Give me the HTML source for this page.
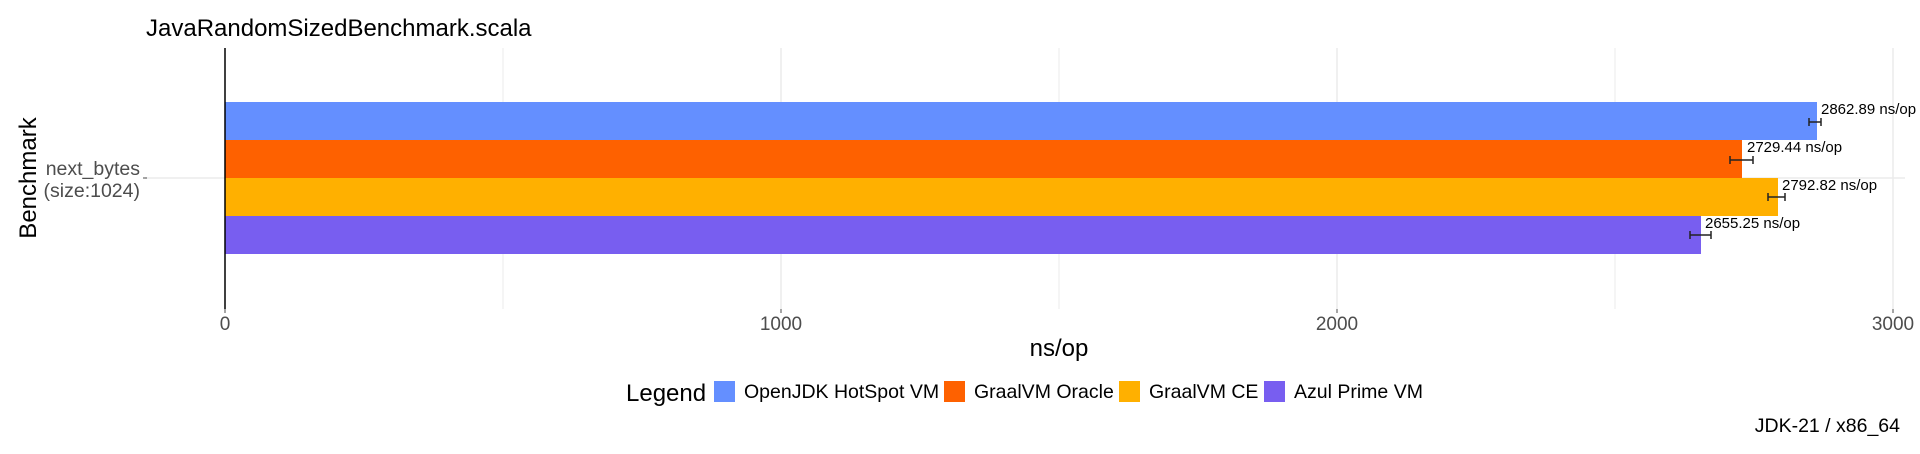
<!DOCTYPE html>
<html><head><meta charset="utf-8"><style>html,body{margin:0;padding:0;background:#fff}svg{display:block}</style></head>
<body>
<svg width="1920" height="454" xmlns="http://www.w3.org/2000/svg" font-family="Liberation Sans, sans-serif">
<rect width="1920" height="454" fill="#fff"/>
<g stroke="#ebebeb" stroke-width="1">
<line x1="503" y1="48" x2="503" y2="309"/><line x1="1059" y1="48" x2="1059" y2="309"/><line x1="1615" y1="48" x2="1615" y2="309"/>
<line x1="781" y1="48" x2="781" y2="309" stroke-width="1.5"/><line x1="1337" y1="48" x2="1337" y2="309" stroke-width="1.5"/><line x1="1893" y1="48" x2="1893" y2="309" stroke-width="1.5"/>
<line x1="145" y1="178" x2="1905" y2="178" stroke-width="1.5"/>
</g>
<rect x="225" y="102" width="1592" height="38" fill="#648fff"/>
<rect x="225" y="140" width="1517" height="38" fill="#fe6100"/>
<rect x="225" y="178" width="1553" height="38" fill="#ffb000"/>
<rect x="225" y="216" width="1476" height="38" fill="#785ef0"/>
<line x1="225" y1="48" x2="225" y2="309" stroke="#000" stroke-width="1.5"/>
<g stroke="#222" stroke-width="1.5" fill="none">
<path d="M1809 122H1821M1809 118V126M1821 118V126"/>
<path d="M1730 160H1753M1730 156V164M1753 156V164"/>
<path d="M1768 197H1785M1768 193V201M1785 193V201"/>
<path d="M1690 235H1711M1690 231V239M1711 231V239"/>
</g>
<g font-size="15" fill="#000">
<text x="1821" y="114">2862.89 ns/op</text>
<text x="1747" y="152">2729.44 ns/op</text>
<text x="1782" y="190">2792.82 ns/op</text>
<text x="1705" y="228">2655.25 ns/op</text>
</g>
<text x="146" y="36" font-size="24" fill="#000">JavaRandomSizedBenchmark.scala</text>
<text transform="translate(36,178) rotate(-90)" text-anchor="middle" font-size="24" fill="#000">Benchmark</text>
<g font-size="19.5" fill="#4d4d4d" text-anchor="end">
<text x="140" y="175">next_bytes</text>
<text x="140" y="197">(size:1024)</text>
</g>
<line x1="143" y1="178" x2="147" y2="178" stroke="#4d4d4d"/>
<g stroke="#4d4d4d"><line x1="225" y1="309" x2="225" y2="313"/><line x1="781" y1="309" x2="781" y2="313"/><line x1="1337" y1="309" x2="1337" y2="313"/><line x1="1893" y1="309" x2="1893" y2="313"/></g>
<g font-size="19" fill="#4d4d4d" text-anchor="middle">
<text x="225" y="330">0</text><text x="781" y="330">1000</text><text x="1337" y="330">2000</text><text x="1893" y="330">3000</text>
</g>
<text x="1059" y="356" font-size="24" text-anchor="middle" fill="#000">ns/op</text>
<text x="626" y="401" font-size="24" fill="#000">Legend</text>
<rect x="714" y="381" width="21" height="21" fill="#648fff"/>
<rect x="944" y="381" width="21" height="21" fill="#fe6100"/>
<rect x="1119" y="381" width="21" height="21" fill="#ffb000"/>
<rect x="1264" y="381" width="21" height="21" fill="#785ef0"/>
<g font-size="19.5" fill="#000">
<text x="744" y="398">OpenJDK HotSpot VM</text>
<text x="974" y="398">GraalVM Oracle</text>
<text x="1149" y="398">GraalVM CE</text>
<text x="1294" y="398">Azul Prime VM</text>
</g>
<text x="1900" y="432" font-size="19.5" text-anchor="end" fill="#000">JDK-21 / x86_64</text>
</svg>
</body></html>
